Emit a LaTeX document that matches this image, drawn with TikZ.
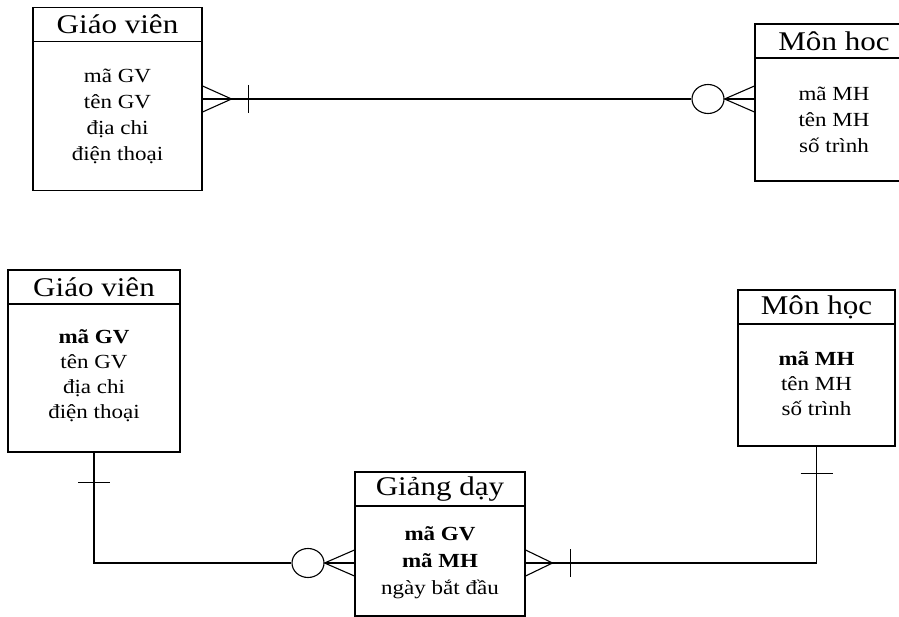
\documentclass[tikz,border=0pt]{standalone}
\usepackage{fontspec}
\setmainfont{Liberation Serif}[FakeStretch=1.15]
\usetikzlibrary{shapes.geometric}

\begin{document}
\begin{tikzpicture}[
	x=1pt, y=-1pt,
	line width=1.1pt,
	ent/.style={draw, inner sep=0pt},
	hdr/.style={draw, inner sep=0pt, minimum height=34pt, anchor=north, font=\fontsize{27}{30}\selectfont},
	body/.style={anchor=north, inner sep=0pt, align=center, font=\fontsize{20}{26}\selectfont},
	ring/.style={draw, ellipse, fill=white, minimum width=32pt, minimum height=29pt, inner sep=0pt}
]
\useasboundingbox (0,0) rectangle (899,617);
\clip (0,0) rectangle (899,617);

% upper diagram
\node[ent, minimum width=169pt, minimum height=183pt] (gv1) at (117.5,99) {};
\node[hdr, minimum width=169pt] (gv1h) at (gv1.north) {Giáo viên};
\node[body] (gv1b) at ([yshift=-26pt]gv1h.south) {mã GV\\tên GV\\địa chi\\điện thoại};

\node[ent, minimum width=158pt, minimum height=157pt] (mh1) at (834,102.5) {};
\node[hdr, minimum width=158pt] (mh1h) at (mh1.north) {Môn hoc};
\node[body] (mh1b) at ([yshift=-28pt]mh1h.south) {mã MH\\tên MH\\số trình};

\node[ring] (c1) at (708,99) {};

\draw (gv1.east) -- (c1.west);
\draw ([yshift=13pt]gv1.east) -- ([xshift=29pt]gv1.east) -- ([yshift=-13pt]gv1.east);
\draw ([xshift=46pt,yshift=14pt]gv1.east) -- ([xshift=46pt,yshift=-14pt]gv1.east);
\coordinate (m1) at (c1 -| mh1.west);
\draw (c1.east) -- (m1);
\draw ([yshift=13pt]m1) -- (c1.east) -- ([yshift=-13pt]m1);

% lower diagram
\node[ent, minimum width=172pt, minimum height=182pt] (gv2) at (94,361) {};
\node[hdr, minimum width=172pt] (gv2h) at (gv2.north) {Giáo viên};
\node[body, font=\fontsize{20}{25}\selectfont] (gv2b) at ([yshift=-24pt]gv2h.south) {\bfseries mã GV\\tên GV\\địa chi\\điện thoại};

\node[ent, minimum width=157pt, minimum height=156pt] (mh2) at (816.5,368) {};
\node[hdr, minimum width=157pt] (mh2h) at (mh2.north) {Môn học};
\node[body, font=\fontsize{20}{25}\selectfont] (mh2b) at ([yshift=-26pt]mh2h.south) {\bfseries mã MH\\tên MH\\số trình};

\node[ent, minimum width=170pt, minimum height=144pt] (gd) at (440,544) {};
\node[hdr, minimum width=170pt] (gdh) at (gd.north) {Giảng dạy};
\node[body, font=\fontsize{20}{27}\selectfont] (gdb) at ([yshift=-19pt]gdh.south) {\bfseries mã GV\\\bfseries mã MH\\ngày bắt đầu};

\node[ring] (c2) at (308,563) {};

\draw (gv2.south) |- (c2.west);
\draw ([xshift=-16pt,yshift=-30pt]gv2.south) -- ([xshift=16pt,yshift=-30pt]gv2.south);
\coordinate (m2) at (c2 -| gd.west);
\draw (c2.east) -- (m2);
\draw ([yshift=13pt]m2) -- (c2.east) -- ([yshift=-13pt]m2);

\coordinate (m3) at (c2 -| gd.east);
\draw (mh2.south) |- (m3);
\draw ([yshift=13pt]m3) -- ([xshift=27pt]m3) -- ([yshift=-13pt]m3);
\draw ([xshift=45pt,yshift=14pt]m3) -- ([xshift=45pt,yshift=-14pt]m3);
\draw ([xshift=-16pt,yshift=-27pt]mh2.south) -- ([xshift=16pt,yshift=-27pt]mh2.south);

\end{tikzpicture}
\end{document}
